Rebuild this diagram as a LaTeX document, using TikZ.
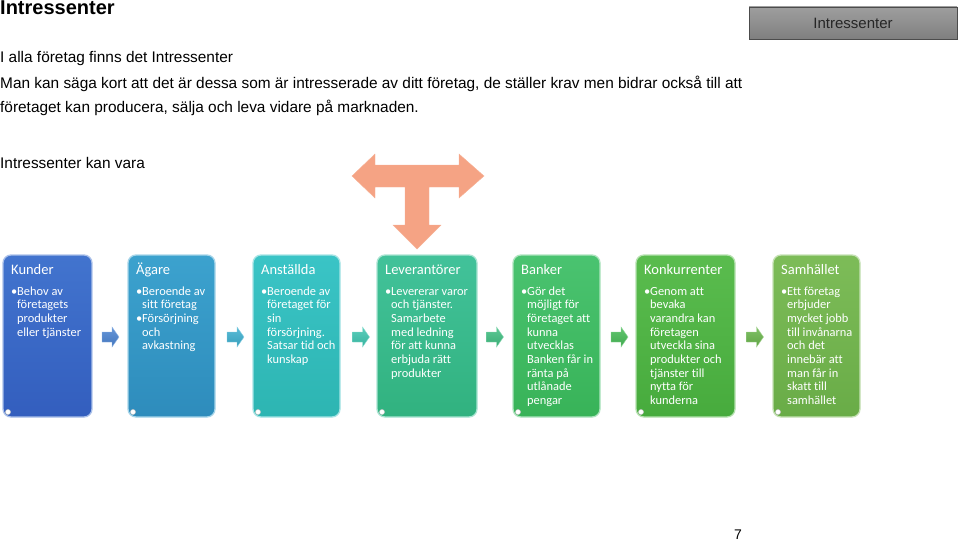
\documentclass[tikz,border=0pt]{standalone}
\usepackage{fontspec}
\setmainfont{Liberation Sans}
\newfontfamily\carl[Ligatures=NoCommon]{Carlito}
\newcommand\bl{\makebox[6pt][l]{•}}
\newcommand\ind{\hspace*{6pt}}
\newcommand\blines[1]{\vtop{\baselineskip=13.7pt\lineskiplimit=-10pt\halign{##\hfil\cr#1\crcr}}}
\definecolor{c1t}{HTML}{4274CE}\definecolor{c1b}{HTML}{335EBE}
\definecolor{c2t}{HTML}{3CA2CE}\definecolor{c2b}{HTML}{2E8CBC}
\definecolor{c3t}{HTML}{3AC4C6}\definecolor{c3b}{HTML}{2DB5B2}
\definecolor{c4t}{HTML}{42C29A}\definecolor{c4b}{HTML}{31B27F}
\definecolor{c5t}{HTML}{4AC370}\definecolor{c5b}{HTML}{38B358}
\definecolor{c6t}{HTML}{5ABC4E}\definecolor{c6b}{HTML}{47AB3D}
\definecolor{c7t}{HTML}{7DBC58}\definecolor{c7b}{HTML}{69AC47}
\definecolor{a1}{HTML}{4A83D2}\definecolor{a2}{HTML}{3DB0D0}
\definecolor{a3}{HTML}{3EC6B0}\definecolor{a4}{HTML}{40BF82}
\definecolor{a5}{HTML}{47BC57}\definecolor{a6}{HTML}{6AB64C}
\definecolor{tcol}{HTML}{F5A384}
\tikzset{
  card/.style args={#1/#2}{rounded corners=8pt, top color=#1, bottom color=#2, draw=#1!45!white, line width=1.3pt},
  cardtitle/.style={anchor=base west, inner sep=0pt, text=white, font=\carl\fontsize{14.5}{16}\selectfont},
  cardbody/.style={anchor=base west, inner sep=0pt, text=white, font=\carl\fontsize{12.4}{13.7}\selectfont},
  flowarrow/.style={top color=#1!85!white, bottom color=#1!90!black, draw=#1!60!white, line width=0.4pt},
  bodytext/.style={anchor=base west, inner sep=0pt, font=\fontsize{15.4}{18}\selectfont},
  corner/.style={fill=white, draw=gray!50, line width=0.4pt}
}
\begin{document}
\begin{tikzpicture}[x=1pt,y=-1pt]
\useasboundingbox (0,0) rectangle (959,543);
% header texts
\node[anchor=base west, inner sep=0pt, font=\bfseries\fontsize{20}{24}\selectfont] (title) at (0,15) {Intressenter};
\node[bodytext] (l1) at (0,63) {I alla företag finns det Intressenter};
\node[bodytext] (l2) at (0,88.5) {Man kan säga kort att det är dessa som är intresserade av ditt företag, de ställer krav men bidrar också till att};
\node[bodytext] (l3) at (0,113) {företaget kan producera, sälja och leva vidare på marknaden.};
\node[bodytext] (l4) at (0,168) {Intressenter kan vara};
% button
\node[draw=black!70, line width=0.8pt, top color=black!38, bottom color=black!50, minimum width=208pt, minimum height=32pt, inner sep=0pt, text=black!85, font=\fontsize{15}{18}\selectfont] (btn) at (853,23) {Intressenter};
% T arrow
\fill[tcol, draw=tcol!85!white] (352,176) -- (375,154) -- (375,165) -- (405,165) -- (429,165) -- (459,165) -- (459,154) -- (484,176) -- (459,198) -- (459,187) -- (429,187) -- (429,225) -- (441,225) -- (417,249) -- (393,225) -- (405,225) -- (405,187) -- (375,187) -- (375,198) -- cycle;
% cards
\foreach \l/\r/\n/\t/\b in {3/92/1/c1t/c1b, 128/215/2/c2t/c2b, 253/340/3/c3t/c3b, 377/477/4/c4t/c4b, 513/600/5/c5t/c5b, 636/735/6/c6t/c6b, 773/860/7/c7t/c7b}{
  \path[card=\t/\b] (\l,255) rectangle (\r,417);
  \path[corner] (\l+5,412) circle (2.6pt);
  \coordinate (k\n) at (\l+8,274);
  \coordinate (b\n) at (\l+8,295);
}
\node[cardtitle] (t1) at (k1) {Kunder};
\node[cardtitle] (t2) at (k2) {Ägare};
\node[cardtitle] (t3) at (k3) {Anställda};
\node[cardtitle] (t4) at (k4) {Leverantörer};
\node[cardtitle] (t5) at (k5) {Banker};
\node[cardtitle] (t6) at (k6) {Konkurrenter};
\node[cardtitle] (t7) at (k7) {Samhället};
\node[cardbody] (d1) at (b1) {\blines{\bl Behov av\cr\ind företagets\cr\ind produkter\cr\ind eller tjänster}};
\node[cardbody] (d2) at (b2) {\blines{\bl Beroende av\cr\ind sitt företag\cr\bl Försörjning\cr\ind och\cr\ind avkastning}};
\node[cardbody] (d3) at (b3) {\blines{\bl Beroende av\cr\ind företaget för\cr\ind sin\cr\ind försörjning.\cr\ind Satsar tid och\cr\ind kunskap}};
\node[cardbody] (d4) at (b4) {\blines{\bl Levererar varor\cr\ind och tjänster.\cr\ind Samarbete\cr\ind med ledning\cr\ind för att kunna\cr\ind erbjuda rätt\cr\ind produkter}};
\node[cardbody] (d5) at (b5) {\blines{\bl Gör det\cr\ind möjligt för\cr\ind företaget att\cr\ind kunna\cr\ind utvecklas\cr\ind Banken får in\cr\ind ränta på\cr\ind utlånade\cr\ind pengar}};
\node[cardbody] (d6) at (b6) {\blines{\bl Genom att\cr\ind bevaka\cr\ind varandra kan\cr\ind företagen\cr\ind utveckla sina\cr\ind produkter och\cr\ind tjänster till\cr\ind nytta för\cr\ind kunderna}};
\node[cardbody] (d7) at (b7) {\blines{\bl Ett företag\cr\ind erbjuder\cr\ind mycket jobb\cr\ind till invånarna\cr\ind och det\cr\ind innebär att\cr\ind man får in\cr\ind skatt till\cr\ind samhället}};
% flow arrows
\foreach \x/\c in {110.5/a1, 235.5/a2, 361/a3, 495/a4, 619.5/a5, 755/a6}{
  \path[flowarrow=\c] (\x-8.5,332) -- (\x+1.5,332) -- (\x+1.5,327) -- (\x+8.5,337) -- (\x+1.5,347) -- (\x+1.5,342) -- (\x-8.5,342) -- cycle;
}
% page number
\node[anchor=base, inner sep=0pt, font=\fontsize{14}{16}\selectfont] (pg) at (738,539.5) {7};
\end{tikzpicture}
\end{document}
